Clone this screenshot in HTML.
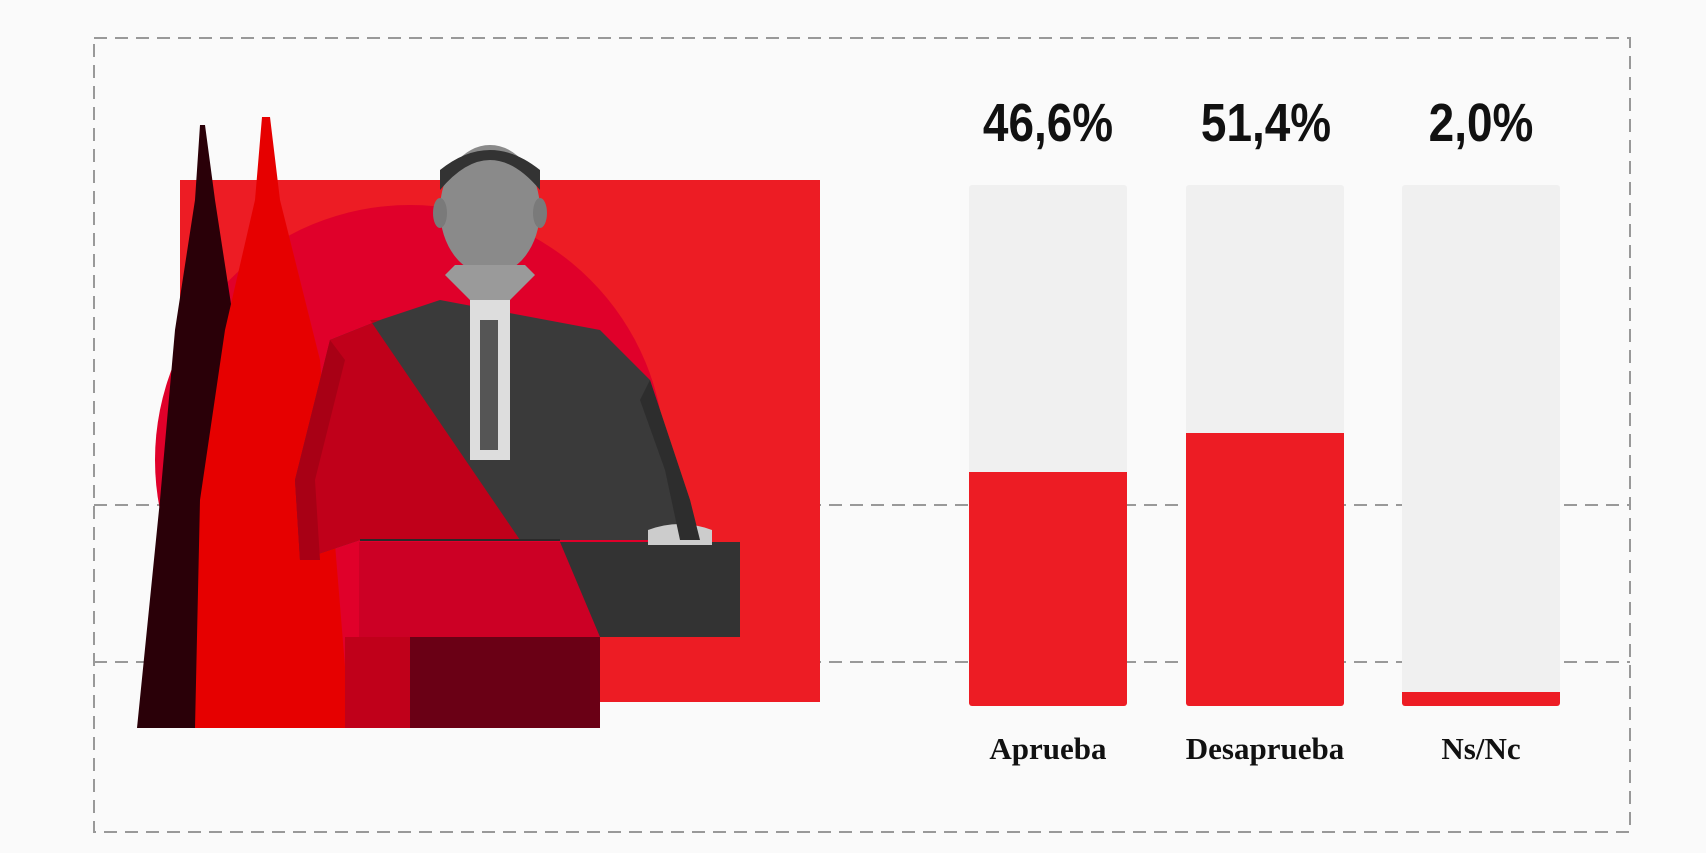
<!DOCTYPE html>
<html><head><meta charset="utf-8"><style>
html,body{margin:0;padding:0;background:#fafafa;}
body{width:1706px;height:853px;position:relative;overflow:hidden;font-family:"Liberation Sans",sans-serif;}
.pct{position:absolute;top:92px;width:200px;text-align:center;font-weight:bold;font-size:54px;color:#111;transform:scaleX(0.85);}
.lab{position:absolute;top:731px;width:240px;text-align:center;font-family:"Liberation Serif",serif;font-weight:bold;font-size:31px;color:#111;}
.bar{position:absolute;top:185px;height:521px;width:158px;background:#f0f0f0;border-radius:3px;overflow:hidden;}
.bar div{position:absolute;left:0;right:0;bottom:0;background:#ed1c24;}
</style></head><body>
<svg width="1706" height="853" style="position:absolute;left:0;top:0">
<g stroke="#999" stroke-width="2" stroke-dasharray="13,8" fill="none">
<rect x="94" y="38" width="1536" height="794"/>
<line x1="94" y1="505" x2="1630" y2="505"/>
<line x1="94" y1="662" x2="1630" y2="662"/>
</g>
<rect x="180" y="180" width="640" height="522" fill="#ed1c24"/>
<circle cx="410" cy="460" r="255" fill="#e0002a"/>
<polygon points="200,125 205,125 215,200 235,330 215,728 137,728 160,500 175,330 195,200" fill="#2a0008"/>
<polygon points="262,117 270,117 280,200 320,360 350,728 195,728 200,500 225,330 255,200" fill="#e60000"/>
<polygon points="295,480 330,340 380,320 440,300 600,330 650,380 690,500 700,540 360,540 300,560" fill="#3a3a3a"/>
<polygon points="295,480 330,340 380,320 370,320 520,540 360,540 300,560" fill="#c0001a"/>
<rect x="470" y="300" width="40" height="160" fill="#ddd"/>
<rect x="480" y="320" width="18" height="130" fill="#555"/>
<ellipse cx="490" cy="210" rx="50" ry="65" fill="#8a8a8a"/>
<path d="M440 190 Q490 130 540 190 L540 170 Q490 130 440 170Z" fill="#333"/>
<rect x="359" y="542" width="381" height="95" fill="#333"/>
<polygon points="359,542 560,542 600,637 359,637" fill="#cc0025"/>
<rect x="345" y="637" width="255" height="91" fill="#6a0015"/>
<rect x="345" y="637" width="65" height="91" fill="#c0001a"/>
<ellipse cx="440" cy="213" rx="7" ry="15" fill="#7a7a7a"/>
<ellipse cx="540" cy="213" rx="7" ry="15" fill="#7a7a7a"/>
<polygon points="445,275 470,300 510,300 535,275 525,265 455,265" fill="#9a9a9a"/>
<path d="M648 530 Q680 518 712 530 L712 545 L648 545Z" fill="#ccc"/>
<line x1="360" y1="540" x2="560" y2="540" stroke="#2a2a2a" stroke-width="2"/>
<polygon points="650,380 690,500 700,540 680,540 665,470 640,400" fill="#2d2d2d"/>
<polygon points="330,340 295,480 300,560 320,560 315,480 345,360" fill="#a80015"/>
</svg>
<div class="pct" style="left:948px">46,6%</div>
<div class="pct" style="left:1166px">51,4%</div>
<div class="pct" style="left:1381px">2,0%</div>
<div class="bar" style="left:969px"><div style="height:234px"></div></div>
<div class="bar" style="left:1186px"><div style="height:273px"></div></div>
<div class="bar" style="left:1402px"><div style="height:14px"></div></div>
<div class="lab" style="left:928px">Aprueba</div>
<div class="lab" style="left:1145px">Desaprueba</div>
<div class="lab" style="left:1361px">Ns/Nc</div>
</body></html>
